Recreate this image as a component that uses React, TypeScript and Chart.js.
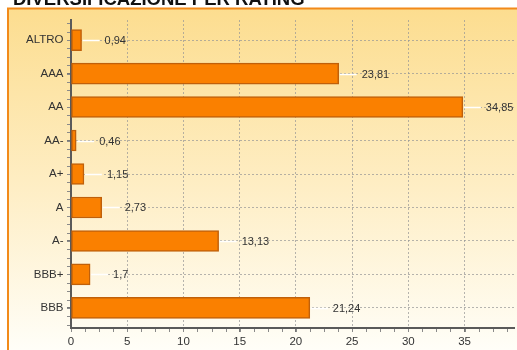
import React, { useEffect, useRef } from 'react';
import { Chart, registerables } from 'chart.js';

Chart.register(...registerables);

const title = 'DIVERSIFICAZIONE PER RATING';
const categories = ['ALTRO', 'AAA', 'AA', 'AA-', 'A+', 'A', 'A-', 'BBB+', 'BBB'];
const values = [0.94, 23.81, 34.85, 0.46, 1.15, 2.73, 13.13, 1.7, 21.24];
const xTicks = [0, 5, 10, 15, 20, 25, 30, 35];

const FONT = "'Liberation Sans', Arial, sans-serif";

const backgroundPlugin = {
  id: 'bgFrame',
  beforeDraw(chart: any) {
    const { ctx, width, height } = chart;
    ctx.save();
    ctx.fillStyle = '#ffffff';
    ctx.fillRect(0, 0, width, height);
    const g = ctx.createLinearGradient(0, 8, 0, height);
    g.addColorStop(0, '#FCDD8F');
    g.addColorStop(0.5, '#FEEDC2');
    g.addColorStop(1, '#FFFEF8');
    ctx.fillStyle = g;
    ctx.fillRect(8, 8, width, height);
    ctx.strokeStyle = '#F28A1A';
    ctx.lineWidth = 2;
    ctx.beginPath();
    ctx.moveTo(8, height + 5);
    ctx.lineTo(8, 8.5);
    ctx.lineTo(width + 5, 8.5);
    ctx.stroke();
    ctx.fillStyle = '#111';
    ctx.font = `bold 18.5px ${FONT}`;
    ctx.textBaseline = 'alphabetic';
    ctx.textAlign = 'left';
    ctx.fillText(title, 13, 4.5);
    ctx.restore();
  },
};

const minorTicksPlugin = {
  id: 'minorTicks',
  afterDraw(chart: any) {
    const { ctx, chartArea } = chart;
    const xs = chart.scales.x;
    const ys = chart.scales.y;
    ctx.save();
    ctx.strokeStyle = '#8a8a8a';
    ctx.lineWidth = 1;
    ctx.beginPath();
    for (let v = 0; v <= xs.max + 1e-6; v += 1.25) {
      const px = Math.round(xs.getPixelForValue(v)) + 0.5;
      ctx.moveTo(px, chartArea.bottom + 1);
      ctx.lineTo(px, chartArea.bottom + 4);
    }
    for (let v = -0.5; v <= categories.length - 0.5 + 1e-6; v += 0.25) {
      const py = Math.round(ys.getPixelForValue(v)) + 0.5;
      ctx.moveTo(chartArea.left - 1, py);
      ctx.lineTo(chartArea.left - 4, py);
    }
    ctx.stroke();
    ctx.restore();
  },
};

const labelPlugin = {
  id: 'valueLabels',
  afterDatasetsDraw(chart: any) {
    const { ctx } = chart;
    const meta = chart.getDatasetMeta(0);
    ctx.save();
    ctx.font = `11px ${FONT}`;
    ctx.textBaseline = 'middle';
    ctx.textAlign = 'left';
    meta.data.forEach((bar: any, i: number) => {
      const xEnd = bar.x;
      const y = Math.round(bar.y) + 0.5;
      ctx.strokeStyle = '#ffffff';
      ctx.lineWidth = 1.5;
      ctx.beginPath();
      ctx.moveTo(xEnd + 1, y);
      ctx.lineTo(xEnd + 18, y);
      ctx.stroke();
      ctx.fillStyle = '#333333';
      ctx.fillText(String(values[i]).replace('.', ','), xEnd + 23, y);
    });
    ctx.restore();
  },
};

export default function App() {
  const ref = useRef<HTMLCanvasElement | null>(null);

  useEffect(() => {
    if (!ref.current) return;
    const chart = new Chart(ref.current, {
      type: 'bar',
      data: {
        datasets: [
          {
            data: values.map((v, i) => ({ x: v, y: i })) as any,
            backgroundColor: '#FA8000',
            borderColor: '#C0600A',
            borderWidth: 1.5,
            borderSkipped: false,
            barThickness: 21,
          },
        ],
      },
      options: {
        indexAxis: 'y',
        animation: false,
        responsive: false,
        devicePixelRatio: 1,
        layout: { padding: { left: 0, right: 3, top: 20, bottom: 0 } },
        plugins: {
          legend: { display: false },
          tooltip: { enabled: false },
          title: { display: false },
        },
        scales: {
          x: {
            type: 'linear',
            min: 0,
            max: 39.4,
            offset: false,
            afterBuildTicks: (s: any) => {
              s.ticks = xTicks.map((v) => ({ value: v }));
            },
            afterFit: (s: any) => {
              s.height = 22;
              s.paddingLeft = 0;
              s.paddingRight = 0;
            },
            ticks: {
              color: '#333',
              font: { family: FONT, size: 11.5 },
              padding: 3,
              maxRotation: 0,
              autoSkip: false,
            },
            grid: {
              offset: false,
              color: 'rgba(150,150,150,0.7)',
              lineWidth: 1,
              tickLength: 4,
              tickColor: '#777',
            },
            border: { display: true, color: '#5a5a5a', width: 2, dash: [2, 2] },
          },
          y: {
            type: 'linear',
            reverse: true,
            min: -0.6,
            max: 8.6,
            offset: false,
            afterBuildTicks: (s: any) => {
              s.ticks = categories.map((_, i) => ({ value: i }));
            },
            afterFit: (s: any) => {
              s.width = 71;
              s.paddingTop = 0;
              s.paddingBottom = 0;
            },
            ticks: {
              color: '#333',
              font: { family: FONT, size: 11.5 },
              padding: 3.5,
              autoSkip: false,
              callback: (v: any) => categories[v as number] ?? '',
            },
            grid: {
              offset: false,
              color: 'rgba(150,150,150,0.7)',
              lineWidth: 1,
              tickLength: 4,
              tickColor: '#777',
            },
            border: { display: true, color: '#5a5a5a', width: 2, dash: [2, 2] },
          },
        },
      },
      plugins: [backgroundPlugin, labelPlugin, minorTicksPlugin],
    });
    return () => chart.destroy();
  }, []);

  return (
    <div style={{ position: 'absolute', left: 0, top: 0, width: 517, height: 350 }}>
      <canvas ref={ref} width={517} height={350} style={{ display: 'block' }} />
    </div>
  );
}
